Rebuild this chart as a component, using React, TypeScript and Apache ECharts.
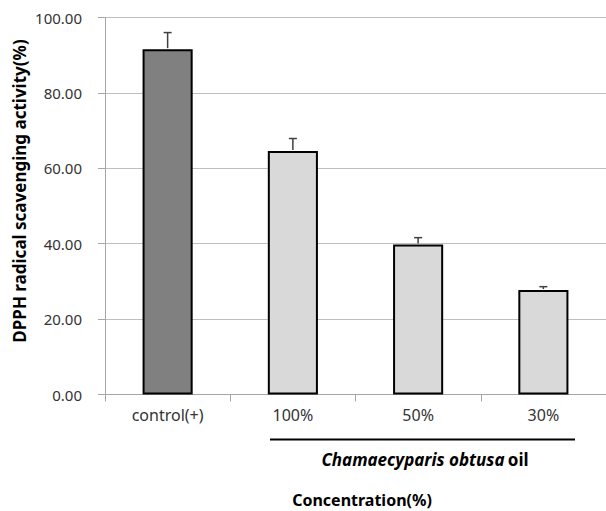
import React, { useEffect, useRef } from "react";
import * as echarts from "echarts";

const categories = ["control(+)", "100%", "50%", "30%"];
const meanValues = [91.6, 64.6, 39.8, 27.7];
const sdValues = [4.4, 3.3, 1.8, 0.9];
const barColors = ["#808080", "#d9d9d9", "#d9d9d9", "#d9d9d9"];
const yTicks = [0, 20, 40, 60, 80, 100];
const yTitle = "DPPH radical scavenging activity(%)";
const groupTitleItalic = "Chamaecyparis obtusa";
const groupTitleRest = "oil";
const xTitle = "Concentration(%)";

export default function App() {
  const ref = useRef<HTMLDivElement>(null);
  useEffect(() => {
    if (!ref.current) return;
    const chart = echarts.init(ref.current, null, { renderer: "svg" });
    const font = "'Noto Sans', 'DejaVu Sans', sans-serif";
    chart.setOption({
      animation: false,
      backgroundColor: "#ffffff",
      textStyle: { fontFamily: font },
      grid: { left: 105, top: 17.5, width: 504, height: 377, containLabel: false },
      xAxis: {
        type: "category",
        data: categories,
        axisLine: { lineStyle: { color: "#a6a6a6", width: 1 } },
        axisTick: { show: true, length: 7, lineStyle: { color: "#a6a6a6" } },
        axisLabel: { color: "#333333", fontSize: 16, margin: 12, fontFamily: font },
      },
      yAxis: {
        type: "value",
        min: yTicks[0],
        max: yTicks[yTicks.length - 1],
        interval: 20,
        axisLine: { show: true, lineStyle: { color: "#a6a6a6" } },
        axisTick: { show: true, length: 7, lineStyle: { color: "#a6a6a6" } },
        splitLine: { lineStyle: { color: "#bfbfbf", width: 1 } },
        axisLabel: {
          color: "#333333",
          fontSize: 15,
          margin: 23,
          fontFamily: font,
          formatter: (v: number) => v.toFixed(2),
        },
      },
      series: [
        {
          type: "bar",
          barWidth: "40%",
          data: meanValues.map((v, i) => ({
            value: v,
            itemStyle: { color: barColors[i], borderColor: "#000", borderWidth: 2 },
          })),
          z: 2,
        },
        {
          type: "custom",
          z: 3,
          data: meanValues.map((v, i) => [i, v, v + sdValues[i]]),
          renderItem: (params: any, api: any) => {
            const x = api.value(0);
            const low = api.coord([x, api.value(1)]);
            const high = api.coord([x, api.value(2)]);
            const cap = 4;
            return {
              type: "group",
              children: [
                {
                  type: "line",
                  shape: { x1: low[0], y1: low[1] - 1, x2: high[0], y2: high[1] },
                  style: { stroke: "#404040", lineWidth: 1.5 },
                },
                {
                  type: "line",
                  shape: { x1: high[0] - cap, y1: high[1], x2: high[0] + cap, y2: high[1] },
                  style: { stroke: "#404040", lineWidth: 1.5 },
                },
              ],
            };
          },
        },
      ],
      graphic: [
        {
          type: "text",
          x: 19,
          y: 191,
          rotation: Math.PI / 2,
          style: {
            text: yTitle,
            align: "center",
            verticalAlign: "middle",
            fontWeight: "bold",
            fontSize: 17,
            fill: "#000",
            fontFamily: font,
          },
        },
        {
          type: "line",
          shape: { x1: 270, y1: 439.5, x2: 575, y2: 439.5 },
          style: { stroke: "#000", lineWidth: 2 },
        },
        {
          type: "text",
          x: 425,
          y: 459,
          style: {
            text: "{a|" + groupTitleItalic + "} {b|" + groupTitleRest + "}",
            align: "center",
            verticalAlign: "middle",
            rich: {
              a: { fontStyle: "italic", fontWeight: "bold", fontSize: 17, fill: "#000", fontFamily: font },
              b: { fontStyle: "normal", fontWeight: "bold", fontSize: 17, fill: "#000", fontFamily: font },
            },
          },
        },
        {
          type: "text",
          x: 362,
          y: 500,
          style: {
            text: xTitle,
            align: "center",
            verticalAlign: "middle",
            fontWeight: "bold",
            fontSize: 16,
            fill: "#000",
            fontFamily: font,
          },
        },
      ],
    });
    return () => chart.dispose();
  }, []);
  return (
    <div
      ref={ref}
      style={{ position: "fixed", left: 0, top: 0, width: 606, height: 511, background: "#fff" }}
    />
  );
}
